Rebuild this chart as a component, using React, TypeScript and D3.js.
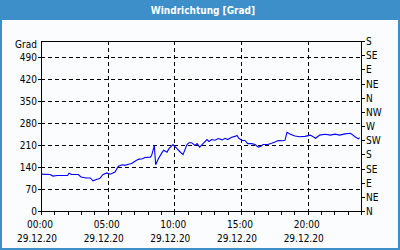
import React from "react";
import * as d3 from "d3";

// time in hours since 00:00, value in degrees
const hours = [0, 0.68, 0.9, 1.2, 2.0, 2.1, 2.3, 2.8, 3.0, 3.4, 3.7, 3.9, 4.2, 4.4, 4.65, 4.95, 5.2, 5.55, 5.8, 6.1, 6.3, 6.5, 6.8, 7.05, 7.3, 7.6, 7.8, 8.2, 8.3, 8.5, 8.6, 8.8, 9.1, 9.2, 9.45, 9.6, 9.9, 10.2, 10.4, 10.65, 10.95, 11.1, 11.3, 11.55, 11.7, 11.9, 12.15, 12.45, 12.6, 12.8, 13.05, 13.3, 13.6, 13.8, 14.0, 14.3, 14.55, 14.7, 14.85, 15.1, 15.3, 15.5, 15.8, 16.05, 16.3, 16.5, 16.65, 17.0, 17.3, 17.55, 17.8, 18.15, 18.3, 18.45, 18.7, 19.05, 19.4, 19.8, 20.2, 20.6, 20.9, 21.3, 21.7, 22.05, 22.4, 22.8, 23.2, 23.3, 23.55, 23.8, 23.9];
const values = [117, 116, 111, 113, 113, 120, 116, 116, 108, 105, 105, 96, 101, 103, 116, 121, 117, 124, 142, 147, 145, 148, 151, 158, 164, 166, 170, 171, 177, 208, 147, 166, 187, 193, 187, 198, 211, 198, 189, 179, 211, 217, 217, 208, 214, 203, 214, 227, 221, 227, 225, 230, 226, 231, 227, 234, 237, 240, 230, 224, 224, 214, 214, 211, 203, 206, 211, 211, 215, 219, 224, 223, 225, 250, 244, 238, 236, 237, 241, 231, 241, 244, 241, 244, 241, 245, 247, 244, 236, 229, 233];

const leftTicks = [0, 70, 140, 210, 280, 350, 420, 490];
const rightTicks = [0, 45, 90, 135, 180, 225, 270, 315, 360, 405, 450, 495, 540];
const rightLabels = ["N", "NE", "E", "SE", "S", "SW", "W", "NW", "N", "NE", "E", "SE", "S"];
const timeTicks = [0, 5, 10, 15, 20];
const timeLabels = ["00:00", "05:00", "10:00", "15:00", "20:00"];
const dateLabel = "29.12.20";
const title = "Windrichtung [Grad]";
const unit = "Grad";

const W = 400, H = 250;
const L = 41, R = 361, T = 41, B = 211;
const FONT = "'DejaVu Sans Condensed', 'DejaVu Sans', sans-serif";

export default function App() {
  const x = d3.scaleLinear().domain([0, 24]).range([L, R]);
  const y = d3.scaleLinear().domain([0, 540]).range([B, T]);
  const line = d3.line<number>().x((_, i) => x(hours[i])).y((v) => y(v));
  const hourTicks = d3.range(0, 25);
  const blue = "#3c8fc8";
  const fs = 10;
  return (
    <svg width={W} height={H} style={{ position: "absolute", left: 0, top: 0 }}>
      <rect x={0} y={0} width={W} height={H} fill={blue} />
      <rect x={2} y={20} width={W - 4} height={H - 22} fill="#fafcfe" />
      <text x={W / 2 + 3} y={14} textAnchor="middle" fill="#fff" fontFamily={FONT} fontWeight="bold" fontSize={10}>{title}</text>
      {leftTicks.filter((v) => v > 0).map((v) => (
        <line key={"h" + v} x1={L} x2={R} y1={Math.round(y(v)) + 0.5} y2={Math.round(y(v)) + 0.5} stroke="#000" strokeDasharray="4,3" />
      ))}
      {timeTicks.filter((t) => t > 0).map((t) => (
        <line key={"v" + t} x1={Math.round(x(t)) + 0.5} x2={Math.round(x(t)) + 0.5} y1={T} y2={B} stroke="#000" strokeDasharray="4,3" />
      ))}
      <path d={line(values) || ""} fill="none" stroke="#0000ff" strokeWidth={1.1} />
      <rect x={L + 0.5} y={T + 0.5} width={R - L} height={B - T} fill="none" stroke="#000" strokeWidth={1} />
      {hourTicks.map((t) => (
        <line key={"t" + t} x1={Math.round(x(t)) + 0.5} x2={Math.round(x(t)) + 0.5} y1={B} y2={B + 4} stroke="#000" />
      ))}
      {leftTicks.map((v) => (
        <g key={"l" + v}>
          <line x1={L - 3} x2={L} y1={Math.round(y(v)) + 0.5} y2={Math.round(y(v)) + 0.5} stroke="#000" />
          <text x={L - 4} y={y(v) + 4} textAnchor="end" fontFamily={FONT} fontSize={fs} fill="#000">{v}</text>
        </g>
      ))}
      <text x={L - 4} y={T + 7} textAnchor="end" fontFamily={FONT} fontSize={fs} fill="#000">{unit}</text>
      {rightTicks.map((v, i) => (
        <g key={"r" + v}>
          <line x1={R} x2={R + 4} y1={Math.round(y(v)) + 0.5} y2={Math.round(y(v)) + 0.5} stroke="#000" />
          <text x={R + 5} y={y(v) + 4} textAnchor="start" fontFamily={FONT} fontSize={fs} fill="#000">{rightLabels[i]}</text>
        </g>
      ))}
      {timeTicks.map((t, i) => (
        <g key={"x" + t}>
          <text x={x(t) - 1} y={228} textAnchor="middle" fontFamily={FONT} fontSize={fs} fill="#000">{timeLabels[i]}</text>
          <text x={x(t) - 4} y={242} textAnchor="middle" fontFamily={FONT} fontSize={fs} fill="#000">{dateLabel}</text>
        </g>
      ))}
    </svg>
  );
}
